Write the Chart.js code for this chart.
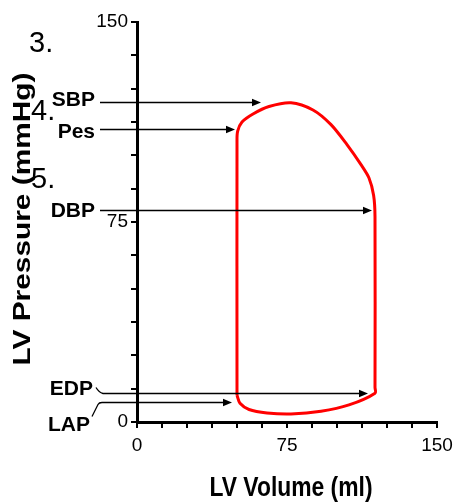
<!DOCTYPE html>
<html lang="en">
<head>
    <meta charset="UTF-8">
    <title>PV Loop</title>
    <script src="https://cdn.jsdelivr.net/npm/chart.js"></script>
    <style>
        html, body { margin: 0; padding: 0; background: #fff; }
        #wrap { width: 463px; height: 504px; }
    </style>
</head>
<body>
    <div id="wrap"><canvas id="pv-chart" width="463" height="504"></canvas></div>
    <script>
    // Pressure-volume loop, going clockwise from the start of filling
    const loopVolume   = [50, 51.5, 56, 65, 77, 92, 106, 119, 119, 119, 118.3, 116, 112, 105, 97, 88, 77, 66, 58, 52.5, 50.3, 50, 50, 50];
    const loopPressure = [10, 7, 4.7, 3.4, 3, 4, 6.4, 10.8, 13, 77, 85, 91.5, 96.5, 104, 111.5, 117, 119.7, 118.3, 115.5, 112.5, 109, 105, 12, 10];

    // arrow markers pointing at the loop
    const markerNames    = ['SBP', 'Pes', 'DBP', 'EDP', 'LAP'];
    const markerPressure = [120, 110, 79.5, 11, 7.5];
    const markerArrowEnd = [62, 49, 117.5, 115.5, 47.5];

    const xTickLabels = [0, 75, 150];
    const yTickLabels = [0, 75, 150];

    const narrow = "'Liberation Sans Narrow', 'Liberation Sans', Arial, sans-serif";
    const sans = "'Liberation Sans', Arial, sans-serif";

    // draw text squeezed/stretched to a given width
    function fitText(ctx, text, x, y, font, width, align, rotate) {
        ctx.save();
        ctx.font = font;
        const sx = width ? width / ctx.measureText(text).width : 1;
        ctx.translate(x, y);
        if (rotate) ctx.rotate(-Math.PI / 2);
        ctx.scale(sx, 1);
        ctx.textAlign = align || 'center';
        ctx.textBaseline = 'middle';
        ctx.fillStyle = '#000';
        ctx.fillText(text, 0, 0);
        ctx.restore();
    }

    function arrowHead(ctx, x, y) {
        ctx.beginPath();
        ctx.moveTo(x, y);
        ctx.lineTo(x - 9, y - 3.8);
        ctx.lineTo(x - 9, y + 3.8);
        ctx.closePath();
        ctx.fill();
    }

    const annotations = {
        id: 'annotations',
        afterDraw(chart) {
            const ctx = chart.ctx;
            const xs = chart.scales.x, ys = chart.scales.y;
            const startX = chart.chartArea.left - 37;
            const labelRight = [95, 95, 95, 93, 90];
            const labelShift = [-2.5, 2.5, 0.5, -4, 23];

            ctx.save();
            ctx.strokeStyle = '#000';
            ctx.fillStyle = '#000';
            ctx.lineWidth = 1.3;
            markerNames.forEach((name, i) => {
                const y = Math.round(ys.getPixelForValue(markerPressure[i])) + 0.5;
                const xEnd = xs.getPixelForValue(markerArrowEnd[i]);
                ctx.beginPath();
                if (name === 'EDP') {
                    ctx.moveTo(startX - 4, y - 6);
                    ctx.quadraticCurveTo(startX - 1, y - 1, startX + 3, y);
                } else if (name === 'LAP') {
                    ctx.moveTo(startX - 8, y + 14);
                    ctx.lineTo(startX - 2, y + 2);
                    ctx.quadraticCurveTo(startX - 1, y, startX + 2, y);
                } else {
                    ctx.moveTo(startX, y);
                }
                ctx.lineTo(xEnd - 6, y);
                ctx.stroke();
                arrowHead(ctx, xEnd, y);
                fitText(ctx, name, labelRight[i], y + labelShift[i], 'bold 21px ' + sans, null, 'right');
            });
            ctx.restore();

            // axis titles
            fitText(ctx, 'LV Pressure (mmHg)', 24, 219, 'bold 23px ' + sans, 293, 'center', true);
            fitText(ctx, 'LV Volume (ml)', 291, 488, 'bold 28px ' + sans, 163, 'center');

            // numbers laid over the picture
            ctx.save();
            ctx.font = '29px ' + sans;
            ctx.fillStyle = '#000';
            ctx.textBaseline = 'alphabetic';
            ctx.fillText('3.', 29, 52);
            ctx.fillText('4.', 31, 120);
            ctx.fillText('5.', 31, 188);
            ctx.restore();
        }
    };

    const points = loopVolume.map((v, i) => ({ x: v, y: loopPressure[i] }));

    const axisCommon = {
        type: 'linear',
        min: 0,
        max: 150,
        grid: {
            drawOnChartArea: false,
            drawTicks: true,
            tickLength: 6,
            tickColor: '#000',
            lineWidth: 2
        },
        border: { color: '#000', width: 3 }
    };

    new Chart(document.getElementById('pv-chart'), {
        type: 'scatter',
        data: {
            datasets: [{
                data: points,
                showLine: true,
                borderColor: '#ff0000',
                borderWidth: 3,
                pointRadius: 0,
                tension: 0.3,
                fill: false
            }]
        },
        options: {
            responsive: false,
            animation: false,
            layout: { padding: { left: 0, top: 22, right: 26, bottom: 0 } },
            plugins: { legend: { display: false }, tooltip: { enabled: false } },
            scales: {
                x: Object.assign({}, axisCommon, {
                    ticks: {
                        stepSize: 12.5,
                        autoSkip: false,
                        maxRotation: 0,
                        padding: 6,
                        color: '#000',
                        font: { family: narrow, size: 19 },
                        callback: v => xTickLabels.includes(v) ? String(v) : ''
                    },
                    afterFit: s => { s.height = 82; }
                }),
                y: Object.assign({}, axisCommon, {
                    ticks: {
                        stepSize: 12.5,
                        autoSkip: false,
                        padding: 3,
                        color: '#000',
                        font: { family: narrow, size: 19 },
                        callback: v => yTickLabels.includes(v) ? String(v) : ''
                    },
                    afterFit: s => { s.width = 137; }
                })
            }
        },
        plugins: [annotations]
    });
    </script>
</body>
</html>
